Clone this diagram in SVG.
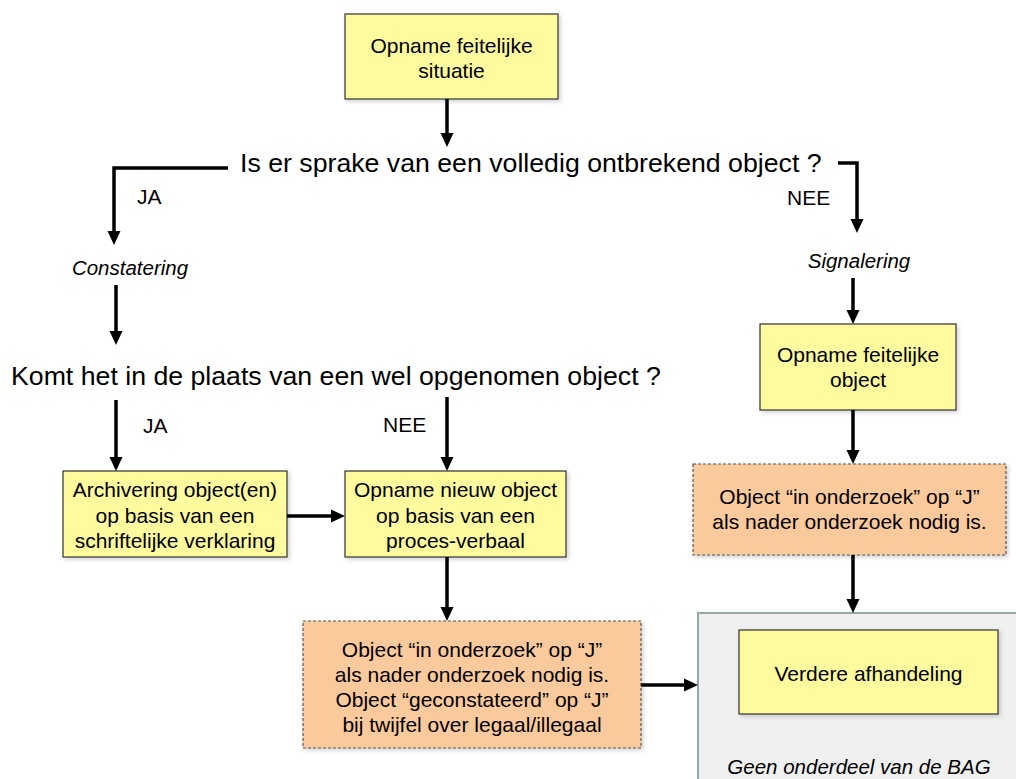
<svg xmlns="http://www.w3.org/2000/svg" width="1016" height="779" viewBox="0 0 1016 779">
<defs>
<marker id="ah" viewBox="0 0 14 14" refX="0" refY="7" markerWidth="14" markerHeight="14" markerUnits="userSpaceOnUse" orient="auto">
<path d="M0,0.5 L14,7 L0,13.5 z" fill="#000"/>
</marker>
<filter id="sh" x="-5%" y="-5%" width="115%" height="125%">
<feDropShadow dx="2" dy="2" stdDeviation="2" flood-color="#000" flood-opacity="0.18"/>
</filter>
</defs>
<style>
text{font-family:"Liberation Sans",Arial,Helvetica,sans-serif;fill:#000}
.q{font-size:26.7px}
.b{font-size:21px;text-anchor:middle}
.l{font-size:21px}
.i{font-size:20.5px;font-style:italic;text-anchor:middle}
.y{fill:#fdfb9d;stroke:#333;stroke-width:1.2;filter:url(#sh)}
.o{fill:#fbca9c;stroke:#555;stroke-width:1.2;stroke-dasharray:3 2;filter:url(#sh)}
.c path{fill:none;stroke:#000;stroke-width:3.5;stroke-linejoin:miter;marker-end:url(#ah)}
</style>
<rect width="1016" height="779" fill="#fff"/>

<g id="container-bag">
<rect x="698" y="613" width="330" height="180" fill="#f0f0f0" stroke="#93a9a9" stroke-width="2"/>
<text class="i" x="859" y="774">Geen onderdeel van de BAG</text>
</g>

<g id="opname-situatie">
<rect class="y" x="345" y="14" width="213" height="85"/>
<text class="b" x="451.5" y="52.5">Opname feitelijke</text>
<text class="b" x="451.5" y="77.5">situatie</text>
</g>

<g id="vraag1">
<text class="q" x="240" y="172">Is er sprake van een volledig ontbrekend object ?</text>
</g>
<g id="ja1"><text class="l" x="137" y="204">JA</text></g>
<g id="nee1"><text class="l" x="787" y="205">NEE</text></g>
<g id="constatering"><text class="i" x="130" y="275">Constatering</text></g>
<g id="signalering"><text class="i" x="859" y="268">Signalering</text></g>

<g id="vraag2">
<text class="q" x="11" y="385">Komt het in de plaats van een wel opgenomen object ?</text>
</g>
<g id="ja2"><text class="l" x="143" y="433">JA</text></g>
<g id="nee2"><text class="l" x="383" y="432">NEE</text></g>

<g id="opname-object">
<rect class="y" x="760" y="324" width="196" height="86"/>
<text class="b" x="858" y="362">Opname feitelijke</text>
<text class="b" x="858" y="387">object</text>
</g>

<g id="onderzoek-rechts">
<rect class="o" x="693" y="464" width="313" height="91"/>
<text class="b" x="849.5" y="504">Object “in onderzoek” op “J”</text>
<text class="b" x="849.5" y="529">als nader onderzoek nodig is.</text>
</g>

<g id="archivering">
<rect class="y" x="63" y="471" width="224" height="86"/>
<text class="b" x="175" y="497">Archivering object(en)</text>
<text class="b" x="175" y="523">op basis van een</text>
<text class="b" x="175" y="548">schriftelijke verklaring</text>
</g>

<g id="opname-nieuw">
<rect class="y" x="345" y="471" width="221" height="86"/>
<text class="b" x="455.5" y="497">Opname nieuw object</text>
<text class="b" x="455.5" y="523">op basis van een</text>
<text class="b" x="455.5" y="548">proces-verbaal</text>
</g>

<g id="onderzoek-midden">
<rect class="o" x="303" y="621" width="338" height="127"/>
<text class="b" x="472" y="657">Object “in onderzoek” op “J”</text>
<text class="b" x="472" y="682">als nader onderzoek nodig is.</text>
<text class="b" x="472" y="707">Object “geconstateerd” op “J”</text>
<text class="b" x="472" y="732">bij twijfel over legaal/illegaal</text>
</g>

<g id="verdere-afhandeling">
<rect class="y" x="739" y="630" width="259" height="84"/>
<text class="b" x="868.5" y="681">Verdere afhandeling</text>
</g>

<g id="connectors" class="c">
<path d="M447,99 V133"/>
<path d="M228,168 H114 V231"/>
<path d="M838,163 H857 V219"/>
<path d="M116,285 V331"/>
<path d="M853,278 V310"/>
<path d="M116,400 V457"/>
<path d="M447,397 V457"/>
<path d="M287,516 H331"/>
<path d="M447,557 V607"/>
<path d="M853,410 V450"/>
<path d="M853,555 V599"/>
<path d="M641,685 H684"/>
</g>
</svg>
